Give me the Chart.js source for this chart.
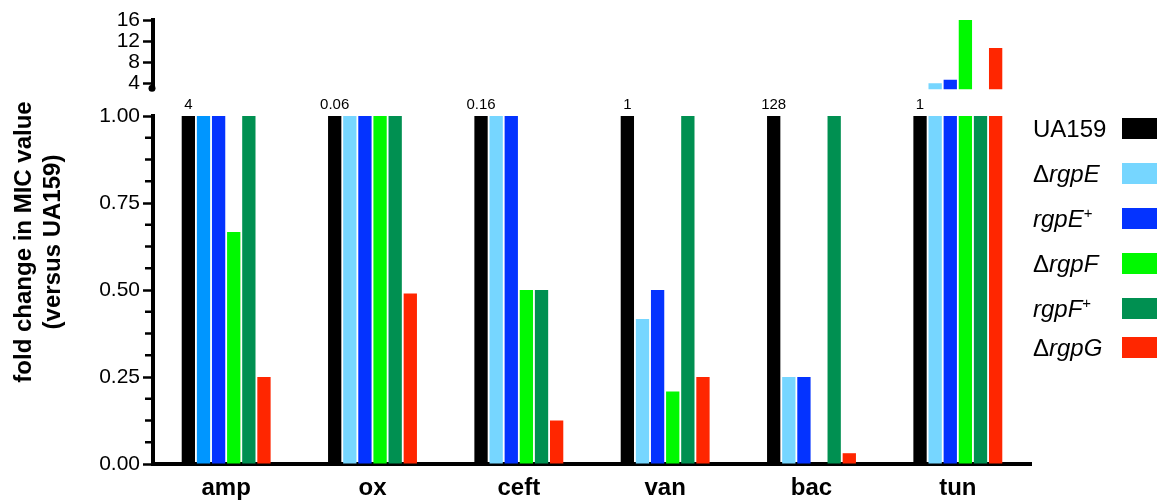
<!DOCTYPE html>
<html>
<head>
<meta charset="utf-8">
<title>MIC fold change</title>
<script src="https://cdn.jsdelivr.net/npm/chart.js@4.4.0/dist/chart.umd.min.js"></script>
<style>
  html, body { margin: 0; padding: 0; background: #fff; }
  #wrap { position: relative; width: 1168px; height: 502px; overflow: hidden; }
  #chart { position: absolute; left: 0; top: 0; }
  .row { position: absolute; left: 1033px; width: 125px; height: 21px;
         font: 24px "Liberation Sans", Arial, sans-serif; color: #000; }
  .row .txt { position: absolute; left: 0; top: 50%; transform: translateY(-50%);
              white-space: nowrap; line-height: 1; }
  .row .txt sup { font-size: 15px; vertical-align: 9px; line-height: 0; }
  .row .box { position: absolute; left: 89px; top: 0; width: 35px; height: 21px; }
</style>
</head>
<body>
<div id="wrap">
  <canvas id="chart" width="1168" height="502"></canvas>
  <div id="legend"></div>
</div>
<script>
// antibiotics
const categories = ['amp', 'ox', 'ceft', 'van', 'bac', 'tun'];
// MIC of UA159 printed over its bar
const micLabels = ['4', '0.06', '0.16', '1', '128', '1'];

const seriesNames = ['UA159', 'ΔrgpE', 'rgpE+', 'ΔrgpF', 'rgpF+', 'ΔrgpG'];

// lower panel (0 - 1)
const ua159 = [1, 1, 1, 1, 1, 1];
const dRgpE = [1, 1, 1, 0.417, 0.25, 1];
const rgpEplus = [1, 1, 1, 0.5, 0.25, 1];
const dRgpF = [0.667, 1, 0.5, 0.208, null, 1];
const rgpFplus = [1, 1, 0.5, 1, 1, 1];
const dRgpG = [0.25, 0.49, 0.125, 0.25, 0.031, 1];

// upper panel, above the axis break (only tun goes over 1)
const dRgpEHigh = [null, null, null, null, null, 4];
const rgpEplusHigh = [null, null, null, null, null, 4.67];
const dRgpFHigh = [null, null, null, null, null, 16];
const dRgpGHigh = [null, null, null, null, null, 10.67];

const lowTicks = [0, 0.25, 0.5, 0.75, 1];
const highTicks = [4, 8, 12, 16];
const yTitle = ['fold change in MIC value', '(versus UA159)'];

const colors = ['#000000', '#76d6ff', '#0433ff', '#00f900', '#009051', '#ff2600'];
// amp ΔrgpE bar is a slightly different blue in the original
const dRgpEColors = ['#0096ff', '#76d6ff', '#76d6ff', '#76d6ff', '#76d6ff', '#76d6ff'];

const FONT = '"Liberation Sans", Arial, Helvetica, sans-serif';

const lowSeries = [ua159, dRgpE, rgpEplus, dRgpF, rgpFplus, dRgpG];
const highSeries = [null, dRgpEHigh, rgpEplusHigh, dRgpFHigh, null, dRgpGHigh];

const datasets = [];
lowSeries.forEach((d, i) => {
    datasets.push({
        label: seriesNames[i],
        data: d,
        backgroundColor: i === 1 ? dRgpEColors : colors[i],
        yAxisID: 'y',
        stack: 's' + i,
    });
});
highSeries.forEach((d, i) => {
    if (!d) return;
    datasets.push({
        label: seriesNames[i] + ' (high)',
        data: d,
        backgroundColor: colors[i],
        yAxisID: 'yTop',
        stack: 's' + i,
    });
});

// minor ticks, MIC labels, axis title and break mark
const extras = {
    id: 'extras',
    afterDraw(chart) {
        const { ctx, chartArea, scales } = chart;
        const y = scales.y;
        const yTop = scales.yTop;
        ctx.save();

        ctx.strokeStyle = '#000';
        ctx.lineWidth = 2.5;
        y.ticks.forEach(t => {
            if (lowTicks.includes(t.value)) return;
            const py = y.getPixelForValue(t.value);
            ctx.beginPath();
            ctx.moveTo(y.right - 8, py);
            ctx.lineTo(y.right - 1, py);
            ctx.stroke();
        });

        // little blob at the bottom of the broken axis
        ctx.fillStyle = '#000';
        ctx.beginPath();
        ctx.arc(yTop.right - 1, yTop.bottom - 1, 3.5, 0, Math.PI * 2);
        ctx.fill();

        const meta = chart.getDatasetMeta(0);
        ctx.font = '15px ' + FONT;
        ctx.textAlign = 'center';
        ctx.textBaseline = 'bottom';
        meta.data.forEach((bar, i) => ctx.fillText(micLabels[i], bar.x, bar.y - 4));

        ctx.font = 'bold 24px ' + FONT;
        ctx.textBaseline = 'middle';
        ctx.translate(0, (chartArea.top + chartArea.bottom) / 2);
        ctx.rotate(-Math.PI / 2);
        ctx.fillText(yTitle[0], 0, 24);
        ctx.fillText(yTitle[1], 0, 53);
        ctx.restore();
    }
};

new Chart(document.getElementById('chart'), {
    type: 'bar',
    data: { labels: categories, datasets },
    options: {
        responsive: false,
        animation: false,
        events: [],
        layout: { padding: { left: 0, right: 137, top: 20, bottom: 0 } },
        datasets: {
            bar: { categoryPercentage: 0.62, barPercentage: 0.88, borderWidth: 0 }
        },
        plugins: {
            legend: { display: false },
            tooltip: { enabled: false },
        },
        scales: {
            x: {
                grid: { display: false, drawTicks: false },
                border: { display: true, width: 4, color: '#000' },
                ticks: { color: '#000', padding: 10, font: { family: FONT, size: 24, weight: 'bold' } },
                afterFit(s) { s.height = 38; },
            },
            yTop: {
                type: 'linear',
                position: 'left',
                stack: 'v',
                stackWeight: 69.3,
                weight: 3,
                min: 2.86,
                max: 16,
                afterBuildTicks(s) { s.ticks = highTicks.map(v => ({ value: v })); },
                grid: { drawOnChartArea: false, tickLength: 10, tickWidth: 2.5, tickColor: '#000' },
                border: { display: true, width: 4, color: '#000' },
                ticks: { autoSkip: false, color: '#000', padding: 3, font: { family: FONT, size: 21 } },
            },
            yGap: {
                type: 'linear',
                position: 'left',
                stack: 'v',
                stackWeight: 26.7,
                weight: 2,
                display: false,
            },
            y: {
                type: 'linear',
                position: 'left',
                stack: 'v',
                stackWeight: 348,
                weight: 1,
                min: 0,
                max: 1,
                grid: {
                    drawOnChartArea: false,
                    tickLength: 10,
                    tickWidth: 2.5,
                    tickColor: c => lowTicks.includes(c.tick.value) ? '#000' : 'rgba(0,0,0,0)',
                },
                border: { display: true, width: 4, color: '#000' },
                ticks: {
                    stepSize: 0.0625,
                    autoSkip: false,
                    color: '#000',
                    padding: 3,
                    font: { family: FONT, size: 21 },
                    callback: v => lowTicks.includes(v) ? v.toFixed(2) : '',
                },
                afterFit(s) { s.width = 153; },
            },
        },
    },
    plugins: [extras],
});

// legend (text left, swatch right, with italics and superscripts)
const legendHtml = [
    'UA159',
    '&Delta;<i>rgpE</i>',
    '<i>rgpE</i><sup>+</sup>',
    '&Delta;<i>rgpF</i>',
    '<i>rgpF</i><sup>+</sup>',
    '&Delta;<i>rgpG</i>',
];
const legendTop = [118, 163, 208, 253, 298, 337];
const legend = document.getElementById('legend');
seriesNames.forEach((name, i) => {
    const row = document.createElement('div');
    row.className = 'row';
    row.style.top = legendTop[i] + 'px';
    row.innerHTML = '<span class="txt">' + legendHtml[i] + '</span>' +
        '<span class="box" style="background:' + colors[i] + '"></span>';
    row.title = name;
    legend.appendChild(row);
});
</script>
</body>
</html>
